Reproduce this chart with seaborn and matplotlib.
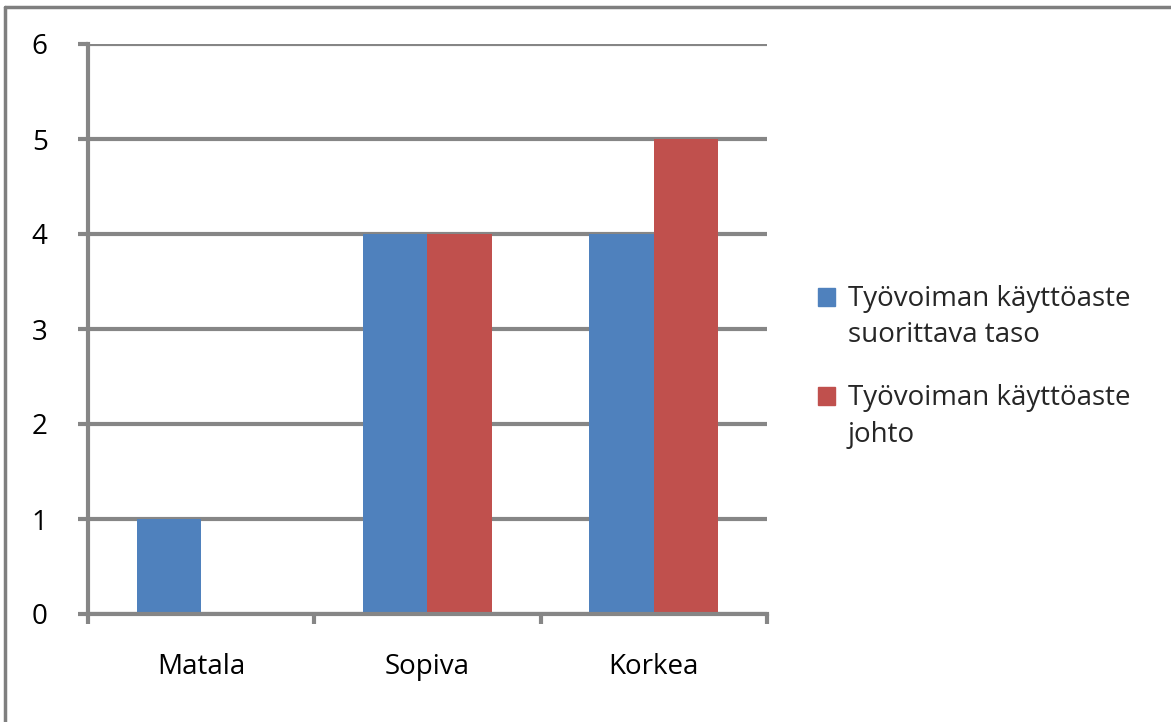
import numpy as np
import pandas as pd
import matplotlib
matplotlib.use("Agg")
import matplotlib.pyplot as plt
import seaborn as sns
from matplotlib.patches import Rectangle
from matplotlib.lines import Line2D
from matplotlib.legend_handler import HandlerPatch

# Chart values
categories = ["Matala", "Sopiva", "Korkea"]
series_names = ["Työvoiman käyttöaste\nsuorittava taso", "Työvoiman käyttöaste\njohto"]
suorittava = [1, 4, 4]
johto = [0, 4, 5]
y_ticks = [0, 1, 2, 3, 4, 5, 6]

df = pd.DataFrame({
    "kategoria": categories * 2,
    "sarja": [series_names[0]] * 3 + [series_names[1]] * 3,
    "arvo": suorittava + johto,
})

sns.set_style("white")
plt.rcParams["font.family"] = ["Open Sans", "DejaVu Sans"]

grid_col = "#868686"
colors = ["#4F81BD", "#C0504D"]
fs = 20

fig = plt.figure(figsize=(11.71, 7.22), dpi=100)
ax = fig.add_axes([88 / 1171, 1 - 614 / 722, (767 - 88) / 1171, (614 - 44) / 722])

sns.barplot(data=df, x="kategoria", y="arvo", hue="sarja", order=categories,
            hue_order=series_names, palette=colors, width=0.57, saturation=1,
            linewidth=0, ax=ax, legend=False)

ax.set_xlim(-0.5, 2.5)
ax.set_ylim(0, 6)
ax.set_yticks(y_ticks)
ax.set_axisbelow(True)
ax.yaxis.grid(True, color=grid_col, linewidth=3)
ax.xaxis.grid(False)
ax.set_xlabel("")
ax.set_ylabel("")

for side in ["top", "right"]:
    ax.spines[side].set_visible(False)
for side in ["left", "bottom"]:
    ax.spines[side].set_color(grid_col)
    ax.spines[side].set_linewidth(3)

ax.tick_params(axis="y", which="major", left=True, length=7, width=3, color=grid_col,
               labelsize=fs, pad=22, labelcolor="black")
ax.set_xticks([0, 1, 2])
ax.set_xticklabels(categories)
ax.tick_params(axis="x", which="major", bottom=False, length=0, labelsize=fs, pad=28,
               labelcolor="black")
ax.set_xticks([-0.5, 0.5, 1.5, 2.5], minor=True)
ax.tick_params(axis="x", which="minor", bottom=True, length=7, width=3, color=grid_col)


# legend square sits next to the first line of each label
def top_square(legend, orig_handle, xdescent, ydescent, width, height, fontsize):
    return Rectangle((-xdescent, -ydescent + 0.74 * fontsize), width, height)


handles = [Rectangle((0, 0), 1, 1, color=c) for c in colors]
leg = fig.legend(handles, series_names, loc="upper left",
                 bbox_to_anchor=(818 / 1171, 1 - 285 / 722), frameon=False, fontsize=fs,
                 handlelength=0.62, handleheight=0.62, handletextpad=0.45, labelspacing=1.25,
                 borderaxespad=0, borderpad=0,
                 handler_map={Rectangle: HandlerPatch(patch_func=top_square)})
for t in leg.get_texts():
    t.set_linespacing(1.4)

# outer chart border
fig.add_artist(Line2D([5 / 1171, 5 / 1171], [0, 1 - 7 / 722], transform=fig.transFigure,
                      color="#7f7f7f", linewidth=2.5))
fig.add_artist(Line2D([5 / 1171, 1], [1 - 7 / 722, 1 - 7 / 722], transform=fig.transFigure,
                      color="#7f7f7f", linewidth=2.5))

fig.savefig("out.png", dpi=100)
